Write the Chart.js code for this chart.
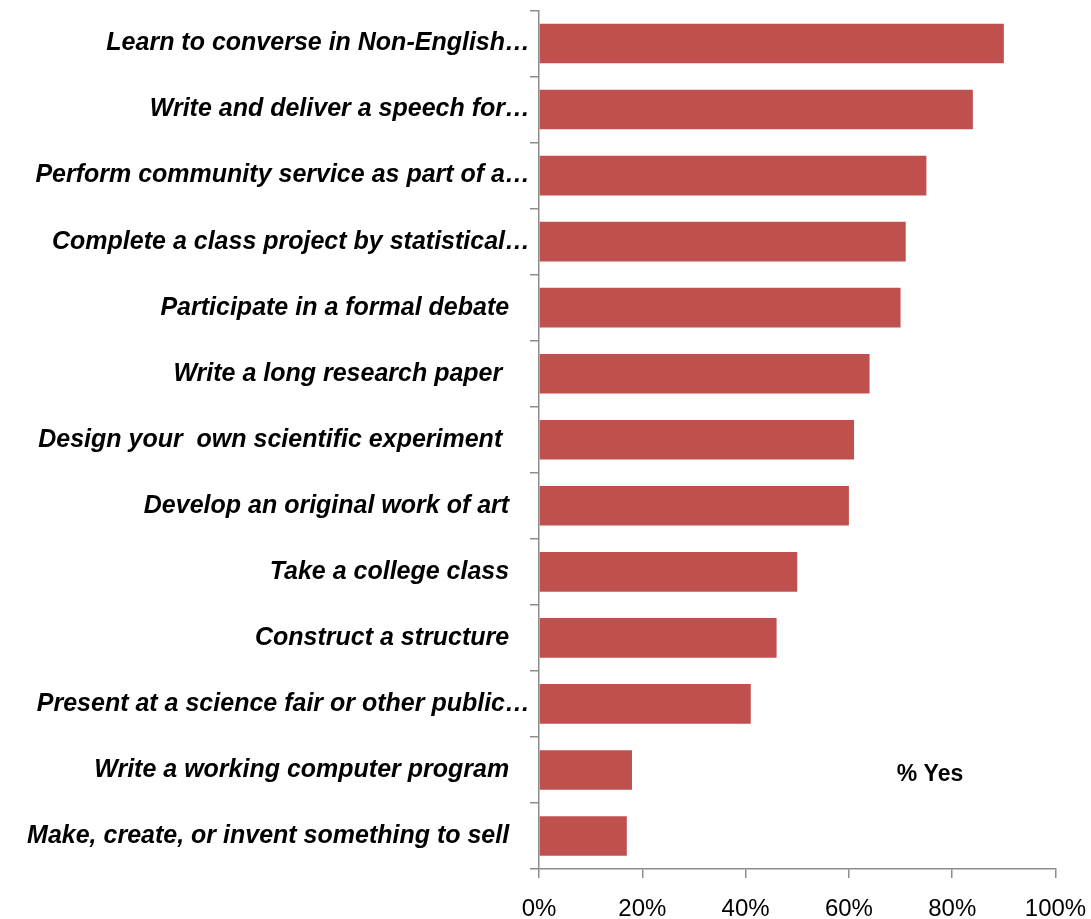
<!DOCTYPE html>
<html lang="en">
<head>
<meta charset="UTF-8">
<title>% Yes</title>
<script src="https://cdn.jsdelivr.net/npm/chart.js"></script>
<style>
  html, body { margin: 0; padding: 0; background: #fff; }
  #wrap { width: 1091px; height: 919px; position: relative; }
</style>
</head>
<body>
<div id="wrap"><canvas id="myChart"></canvas></div>
<script>
// data
const activities = [
  'Learn to converse in Non-English\u2026',
  'Write and deliver a speech for\u2026',
  'Perform community service as part of a\u2026',
  'Complete a class project by statistical\u2026',
  'Participate in a formal debate   ',
  'Write a long research paper    ',
  'Design your  own scientific experiment    ',
  'Develop an original work of art   ',
  'Take a college class   ',
  'Construct a structure   ',
  'Present at a science fair or other public\u2026',
  'Write a working computer program   ',
  'Make, create, or invent something to sell   '
];
const yesPercent = [90, 84, 75, 71, 70, 64, 61, 60, 50, 46, 41, 18, 17];
const xTicks = [0, 20, 40, 60, 80, 100];
const seriesName = '% Yes';

const axisGrey = '#8c8c8c';
const labelFont = "'Liberation Sans Narrow', 'Liberation Sans', Arial, sans-serif";

// "% Yes" label, placed through the scales
const seriesLabel = {
  id: 'seriesLabel',
  afterDraw(chart) {
    const { ctx, scales } = chart;
    const x = scales.x.getPixelForValue(75.7);
    const y = scales.y.getPixelForValue(11) + 5;
    ctx.save();
    ctx.font = "bold 23px " + labelFont;
    ctx.fillStyle = '#000';
    ctx.textAlign = 'center';
    ctx.textBaseline = 'middle';
    ctx.fillText(seriesName, x, y);
    ctx.restore();
  }
};

const ctx = document.getElementById('myChart').getContext('2d');
const myChart = new Chart(ctx, {
  type: 'bar',
  data: {
    labels: activities,
    datasets: [{
      label: seriesName,
      data: yesPercent,
      backgroundColor: '#c0504d',
      borderWidth: 0,
      barPercentage: 0.6,
      categoryPercentage: 1.0
    }]
  },
  options: {
    indexAxis: 'y',
    responsive: true,
    maintainAspectRatio: false,
    animation: false,
    layout: { padding: { top: 10.5, left: 0, right: 0, bottom: 0 } },
    plugins: {
      legend: { display: false },
      tooltip: { enabled: false }
    },
    scales: {
      x: {
        min: 0,
        max: 100,
        afterBuildTicks(scale) {
          scale.ticks = xTicks.map(v => ({ value: v }));
        },
        afterFit(scale) {
          scale.height = 50;
          scale.paddingLeft = 0;
          scale.paddingRight = 35.5;
        },
        border: { display: true, color: axisGrey, width: 1.5 },
        grid: {
          drawOnChartArea: false,
          drawTicks: true,
          tickLength: 9,
          color: axisGrey,
          lineWidth: 1.5
        },
        ticks: {
          callback: v => v + '%',
          color: '#000',
          padding: 17,
          maxRotation: 0,
          font: { family: "'Liberation Sans', Arial, sans-serif", size: 24 }
        }
      },
      y: {
        afterFit(scale) {
          scale.width = 539;
          scale.paddingTop = 0;
          scale.paddingBottom = 0;
        },
        border: { display: true, color: axisGrey, width: 1.5 },
        grid: {
          offset: true,
          drawOnChartArea: false,
          drawTicks: true,
          tickLength: 9,
          color: axisGrey,
          lineWidth: 1.5
        },
        ticks: {
          color: '#000',
          padding: 0,
          autoSkip: false,
          font: { family: labelFont, size: 25, style: 'italic', weight: 'bold' }
        }
      }
    }
  },
  plugins: [seriesLabel]
});
</script>
</body>
</html>
